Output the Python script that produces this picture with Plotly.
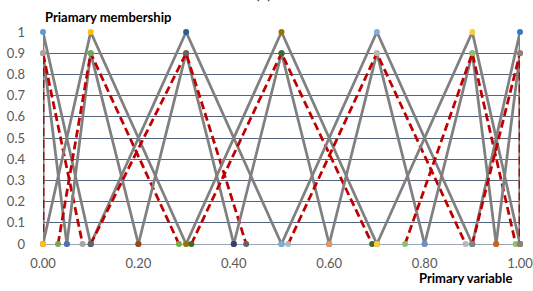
import plotly.graph_objects as go

# ---- data ----
series_x = [
    [0, 0, 0.1],
    [0, 0, 0.05],
    [0, 0, 0.083],
    [0, 0.1, 0.3],
    [0.05, 0.1, 0.2],
    [0.0315, 0.1, 0.285],
    [0.1, 0.3, 0.5],
    [0.2, 0.3, 0.4],
    [0.1, 0.3, 0.426],
    [0.3, 0.5, 0.7],
    [0.4, 0.5, 0.6],
    [0.311, 0.5, 0.69],
    [0.5, 0.7, 0.9],
    [0.6, 0.7, 0.8],
    [0.514, 0.7, 0.886],
    [0.7, 0.9, 1.0],
    [0.8, 0.9, 0.95],
    [0.759, 0.9, 0.991],
    [0.9, 1.0, 1.0],
    [0.95, 1.0, 1.0],
    [0.9, 1.0, 1.0],
]
series_y = [
    [0, 1, 0],
    [0, 0.9, 0],
    [0, 0.9, 0],
    [0, 1, 0],
    [0, 0.9, 0],
    [0, 0.9, 0],
    [0, 1, 0],
    [0, 0.9, 0],
    [0, 0.9, 0],
    [0, 1, 0],
    [0, 0.9, 0],
    [0, 0.9, 0],
    [0, 1, 0],
    [0, 0.9, 0],
    [0, 0.9, 0],
    [0, 1, 0],
    [0, 0.9, 0],
    [0, 0.9, 0],
    [0, 1, 0],
    [0, 0.9, 0],
    [0, 0.9, 0],
]
# 'upper' = gray solid, 'lower' = red dashed
series_kind = ["upper", "upper", "lower"] * 7
marker_colors = [
    "#5B9BD5", "#ED7D31", "#A5A5A5", "#FFC000", "#4472C4", "#70AD47",
    "#255E91", "#9E480E", "#636363", "#997300", "#264478", "#43682B",
    "#7CAFDD", "#F1975A", "#B7B7B7", "#FFCD33", "#698ED0", "#8CC168",
    "#327DC2", "#D26012", "#848484",
]
x_ticks = [0, 0.2, 0.4, 0.6, 0.8, 1.0]
y_ticks = [0, 0.1, 0.2, 0.3, 0.4, 0.5, 0.6, 0.7, 0.8, 0.9, 1.0]

y_title = "Priamary membership"
x_title = "Primary variable"
panel_label = "(a)"

# ---- figure ----
fig = go.Figure()
for xs, ys, kind, mc in zip(series_x, series_y, series_kind, marker_colors):
    if kind == "upper":
        line = dict(color="#808080", width=2.75)
    else:
        line = dict(color="#C00000", width=2.75, dash="8px,4px")
    fig.add_trace(go.Scatter(
        x=xs, y=ys, mode="lines+markers",
        line=line,
        marker=dict(color=mc, size=6, line=dict(width=0)),
        cliponaxis=False, showlegend=False, hoverinfo="skip",
    ))

tick_font = dict(family="Lato", size=13, color="#595959")
fig.update_layout(
    width=533, height=291,
    margin=dict(l=43, r=13, t=32, b=47),
    paper_bgcolor="white", plot_bgcolor="white",
    font=dict(family="Lato"),
    xaxis=dict(
        range=[0, 1], tickvals=x_ticks, tickformat=".2f",
        showgrid=False, zeroline=False, showline=False,
        ticks="", tickfont=tick_font, ticklabelstandoff=10,
        ticklabeloverflow="allow", automargin=False,
    ),
    yaxis=dict(
        range=[0, 1], tickvals=y_ticks,
        showgrid=True, gridcolor="#56647A", gridwidth=1.4,
        zeroline=True, zerolinecolor="#9AA6B8", zerolinewidth=1.4,
        showline=False, ticks="", tickfont=tick_font, ticklabelstandoff=17,
        ticklabeloverflow="allow", automargin=False,
    ),
    annotations=[
        dict(text="<b>" + y_title + "</b>", xref="paper", yref="paper",
             x=0.0, y=1.069, xanchor="left", yanchor="middle", showarrow=False,
             font=dict(family="Lato", size=13, color="#000000")),
        dict(text="<b>" + x_title + "</b>", xref="paper", yref="paper",
             x=0.987, y=-0.1585, xanchor="right", yanchor="middle", showarrow=False,
             font=dict(family="Lato", size=13, color="#000000")),
        dict(text=panel_label, xref="paper", yref="paper",
             x=0.4617, y=1.129, xanchor="center", yanchor="bottom", showarrow=False,
             font=dict(family="Lato", size=17, color="#404040")),
    ],
)

fig.write_html("out.html", config={"displayModeBar": False},
               post_script="document.body.style.margin='0';")
